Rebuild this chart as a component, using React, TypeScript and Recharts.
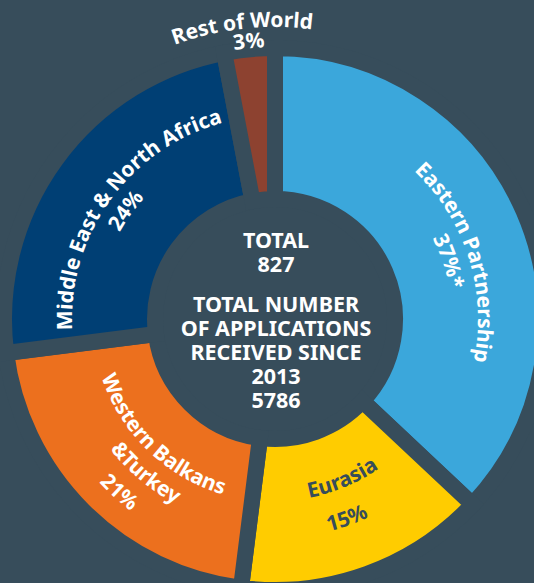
import React from "react";
import { PieChart, Pie, Cell, Customized } from "recharts";

const regions = [
  "Eastern Partnership",
  "Eurasia",
  "Western Balkans &Turkey",
  "Middle East & North Africa",
  "Rest of World",
];
const shares = [37, 15, 21, 24, 3];
const shareLabels = ["37%*", "15%", "21%", "24%", "3%"];
const nameLines = [
  ["Eastern Partnership"],
  ["Eurasia"],
  ["Western Balkans", "&Turkey"],
  ["Middle East & North Africa"],
  ["Rest of World"],
];
const totalLines = ["TOTAL", "827"];
const sinceLines = ["TOTAL NUMBER", "OF APPLICATIONS", "RECEIVED SINCE", "2013", "5786"];

const COLORS = ["#3ba7db", "#ffcc00", "#ec701e", "#003f74", "#8d4230"];
const BG = "#374d5b";
const FONT = "'Noto Sans', 'Open Sans', sans-serif";

// label layout (styles, not data)
const LAYOUT = [
  { dir: "cw", radii: [203, 177], offset: [-6, -5], color: "#ffffff" },
  { dir: "ccw", radii: [182, 219], offset: [3, 0], color: BG },
  { dir: "ccw", radii: [183, 210, 240], offset: [1, 5, 3], color: "#ffffff" },
  { dir: "cw", radii: [203, 178], offset: [0, 0], color: "#ffffff" },
  { dir: "cw", radii: [292, 272], offset: [1, 0], color: "#ffffff" },
];

const data = regions.map((name, i) => ({ name, value: shares[i] }));

const pt = (cx: number, cy: number, r: number, deg: number) => {
  const a = (deg * Math.PI) / 180;
  return [cx + r * Math.cos(a), cy - r * Math.sin(a)];
};

const arcPath = (cx: number, cy: number, r: number, mid: number, dir: string) => {
  const span = 80;
  if (dir === "cw") {
    const [x1, y1] = pt(cx, cy, r, mid + span);
    const [x2, y2] = pt(cx, cy, r, mid - span);
    return `M ${x1} ${y1} A ${r} ${r} 0 0 1 ${x2} ${y2}`;
  }
  const [x1, y1] = pt(cx, cy, r, mid - span);
  const [x2, y2] = pt(cx, cy, r, mid + span);
  return `M ${x1} ${y1} A ${r} ${r} 0 0 0 ${x2} ${y2}`;
};

const renderLabel = (props: any) => {
  const { cx, cy, midAngle, index } = props;
  const lay = LAYOUT[index];
  const lines = [...nameLines[index], shareLabels[index]];
  return (
    <g key={`lbl-${index}`}>
      {lines.map((line, j) => {
        const id = `arc-${index}-${j}`;
        return (
          <g key={id}>
            <defs>
              <path id={id} d={arcPath(cx, cy, lay.radii[j], midAngle + lay.offset[j], lay.dir)} />
            </defs>
            <text
              fill={lay.color}
              fontSize={21}
              fontWeight={700}
              fontFamily={FONT}
              textAnchor="middle"
            >
              <textPath href={`#${id}`} startOffset="50%">
                {line}
              </textPath>
            </text>
          </g>
        );
      })}
    </g>
  );
};

const CenterText = () => {
  const ys1 = [248, 272];
  const ys2 = [312, 336, 360, 384, 408];
  return (
    <g fontFamily={FONT} fontWeight={700} fontSize={21.5} fill="#ffffff" textAnchor="middle">
      {totalLines.map((t, i) => (
        <text key={`t${i}`} x={276} y={ys1[i]}>
          {t}
        </text>
      ))}
      {sinceLines.map((t, i) => (
        <text key={`s${i}`} x={276} y={ys2[i]}>
          {t}
        </text>
      ))}
    </g>
  );
};

export default function App() {
  return (
    <div style={{ position: "fixed", left: 0, top: 0, width: 534, height: 583, background: BG, overflow: "hidden" }}>
      <PieChart width={534} height={583} margin={{ top: 0, right: 0, bottom: 0, left: 0 }}>
        <Pie
          data={data}
          dataKey="value"
          nameKey="name"
          cx={275}
          cy={319}
          innerRadius={120}
          outerRadius={271}
          startAngle={90}
          endAngle={-270}
          stroke={BG}
          strokeWidth={16}
          isAnimationActive={false}
          labelLine={false}
          label={renderLabel}
        >
          {data.map((d, i) => (
            <Cell key={d.name} fill={COLORS[i]} stroke={BG} strokeWidth={16} />
          ))}
        </Pie>
        <Customized component={CenterText} />
      </PieChart>
    </div>
  );
}
